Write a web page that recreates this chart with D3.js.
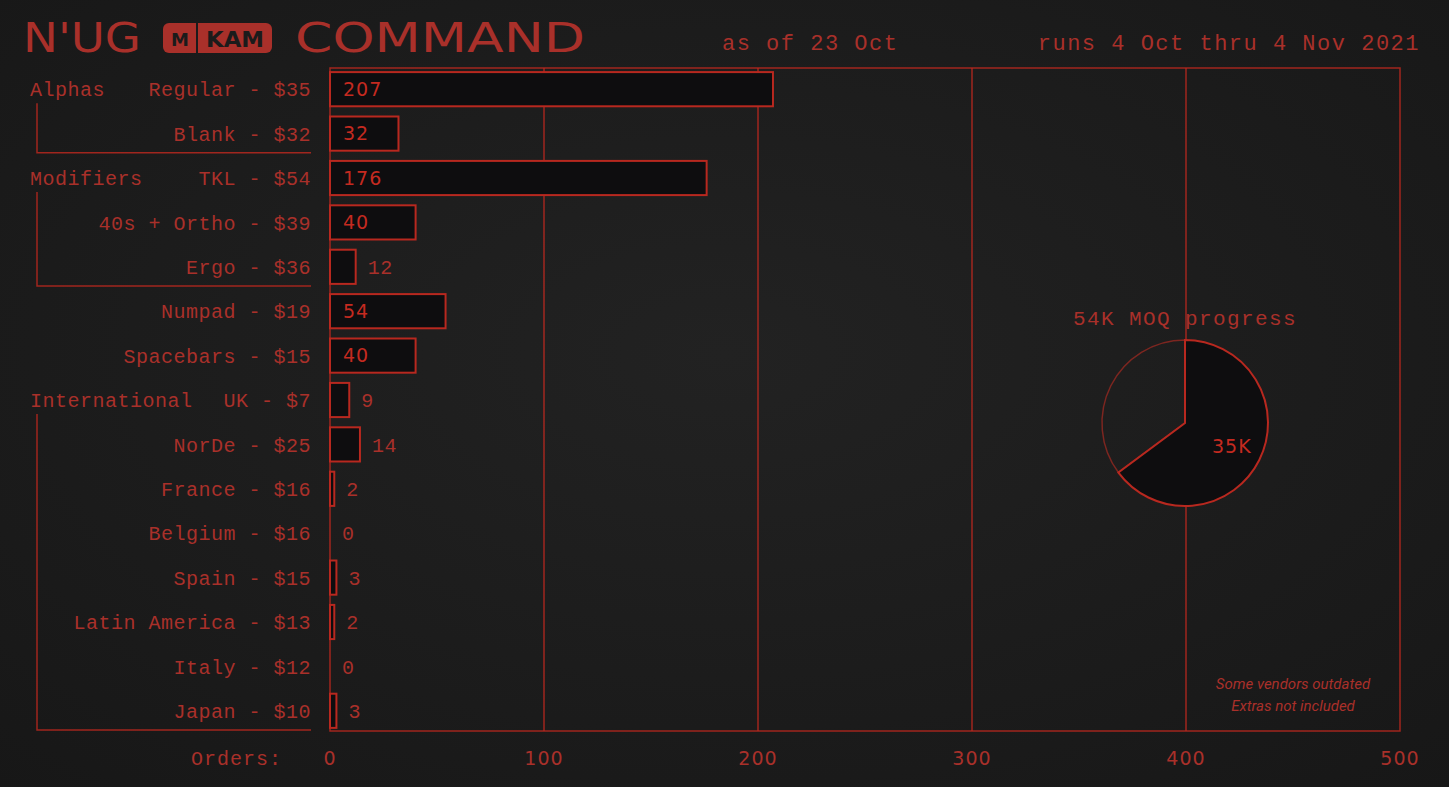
<!DOCTYPE html>
<html>
<head>
<meta charset="utf-8">
<script src="https://cdn.jsdelivr.net/npm/d3@7"></script>
<style>
  html, body { margin: 0; padding: 0; background: #1b1b1b; }
  svg { display: block; }
</style>
</head>
<body>
<script>
// ---------- data ----------
const categories = [
  "Regular - $35", "Blank - $32", "TKL - $54", "40s + Ortho - $39", "Ergo - $36",
  "Numpad - $19", "Spacebars - $15", "UK - $7", "NorDe - $25", "France - $16",
  "Belgium - $16", "Spain - $15", "Latin America - $13", "Italy - $12", "Japan - $10"
];
const orders = [207, 32, 176, 40, 12, 54, 40, 9, 14, 2, 0, 3, 2, 0, 3];
const groupNames = ["Alphas", "Modifiers", "International"];
const groupFirst = [0, 2, 7];
const groupLast = [1, 4, 14];
const tickValues = [0, 100, 200, 300, 400, 500];
const moqTotal = 54;      // thousands
const moqReached = 35;    // thousands
const pieLabels = ["35K", ""];
const headerTexts = ["as of 23 Oct", "runs 4 Oct thru 4 Nov 2021"];
const footnotes = ["Some vendors outdated", "Extras not included"];

// ---------- setup ----------
const W = 1449, H = 787;
const RED = "#b8281f";
const TXT = "#a9302a";
const DIM = "#7d2620";
const DARK = "#0e0d0f";
const TYPE = "'Liberation Mono', 'DejaVu Sans Mono', monospace";
const SQUARE = "'DejaVu Sans', sans-serif";

const svg = d3.select("body").append("svg").attr("width", W).attr("height", H);

const defs = svg.append("defs");
const rg = defs.append("radialGradient").attr("id", "bg").attr("cx", "50%").attr("cy", "45%").attr("r", "75%");
rg.append("stop").attr("offset", "0%").attr("stop-color", "#222222");
rg.append("stop").attr("offset", "100%").attr("stop-color", "#171717");
svg.append("rect").attr("width", W).attr("height", H).attr("fill", "url(#bg)");

const plot = { left: 330, right: 1400, top: 68, bottom: 731 };

const x = d3.scaleLinear().domain([0, 500]).range([plot.left, plot.right]);
const y = d3.scaleBand().domain(categories).range([67, 733]).paddingInner(0.23).paddingOuter(0.115);

// ---------- title ----------
const title = svg.append("g");
title.append("text").attr("x", 23).attr("y", 52).attr("textLength", 118).attr("lengthAdjust", "spacingAndGlyphs")
  .attr("font-family", SQUARE).attr("font-size", 40).attr("fill", TXT).text("N'UG");
title.append("rect").attr("x", 163).attr("y", 23).attr("width", 109).attr("height", 30).attr("rx", 6).attr("fill", TXT);
title.append("line").attr("x1", 197).attr("x2", 197).attr("y1", 23).attr("y2", 53).attr("stroke", "#1b1b1b").attr("stroke-width", 2);
title.append("text").attr("x", 180).attr("y", 46).attr("text-anchor", "middle").attr("font-family", SQUARE)
  .attr("font-weight", "bold").attr("font-size", 18).attr("fill", "#1b1b1b").text("M");
title.append("text").attr("x", 206).attr("y", 47).attr("textLength", 58).attr("lengthAdjust", "spacingAndGlyphs")
  .attr("font-family", SQUARE).attr("font-weight", "bold").attr("font-size", 22).attr("fill", "#1b1b1b").text("KAM");
title.append("text").attr("x", 295).attr("y", 52).attr("textLength", 290).attr("lengthAdjust", "spacingAndGlyphs")
  .attr("font-family", SQUARE).attr("font-size", 40).attr("fill", TXT).text("COMMAND");

svg.append("text").attr("x", 722).attr("y", 50).attr("font-family", TYPE).attr("font-size", 22)
  .attr("letter-spacing", 1.5).attr("fill", TXT).text(headerTexts[0]);
svg.append("text").attr("x", 1420).attr("y", 50).attr("text-anchor", "end").attr("font-family", TYPE).attr("font-size", 22)
  .attr("letter-spacing", 1.5).attr("fill", TXT).text(headerTexts[1]);

// ---------- grid & frame ----------
svg.append("g").selectAll("line").data(tickValues.slice(1, -1)).join("line")
  .attr("x1", d => x(d)).attr("x2", d => x(d)).attr("y1", plot.top).attr("y2", plot.bottom)
  .attr("stroke", RED).attr("stroke-width", 1.5).attr("opacity", 0.85);
svg.append("rect").attr("x", plot.left).attr("y", plot.top).attr("width", plot.right - plot.left)
  .attr("height", plot.bottom - plot.top).attr("fill", "none").attr("stroke", RED).attr("stroke-width", 1.5).attr("opacity", 0.85);

// ---------- bars ----------
const rows = categories.map((c, i) => ({ c, v: orders[i] }));
svg.append("g").selectAll("rect").data(rows.filter(d => d.v > 0)).join("rect")
  .attr("x", x(0)).attr("y", d => y(d.c))
  .attr("width", d => x(d.v) - x(0)).attr("height", y.bandwidth())
  .attr("fill", DARK).attr("stroke", RED).attr("stroke-width", 2);

// value labels
svg.append("g").selectAll("text").data(rows).join("text")
  .attr("x", d => d.v >= 20 ? x(0) + 13 : x(d.v) + 12)
  .attr("y", d => y(d.c) + y.bandwidth() / 2)
  .attr("dy", "0.36em")
  .attr("font-family", d => d.v >= 20 ? SQUARE : TYPE)
  .attr("font-size", d => d.v >= 20 ? 19 : 20)
  .attr("letter-spacing", d => d.v >= 20 ? 1 : 0.5)
  .attr("fill", d => d.v >= 20 ? "#c52a20" : TXT)
  .text(d => d.v);

// category labels
svg.append("g").selectAll("text").data(categories).join("text")
  .attr("x", 311).attr("y", d => y(d) + y.bandwidth() / 2).attr("dy", "0.36em")
  .attr("text-anchor", "end").attr("font-family", TYPE).attr("font-size", 20).attr("letter-spacing", 0.5)
  .attr("fill", TXT).text(d => d);

// group labels and brackets
const groups = groupNames.map((g, i) => ({ g, first: categories[groupFirst[i]], last: categories[groupLast[i]] }));
const gg = svg.append("g");
gg.selectAll("text").data(groups).join("text")
  .attr("x", 30).attr("y", d => y(d.first) + y.bandwidth() / 2).attr("dy", "0.36em")
  .attr("font-family", TYPE).attr("font-size", 20).attr("letter-spacing", 0.5).attr("fill", TXT).text(d => d.g);
gg.selectAll("path").data(groups).join("path")
  .attr("d", d => {
    const top = y(d.first) + y.bandwidth() / 2 + 14;
    const bot = y(d.last) + y.bandwidth() + (y.step() - y.bandwidth()) / 2 - 3;
    return `M37,${top} V${bot} H311`;
  })
  .attr("fill", "none").attr("stroke", RED).attr("stroke-width", 1.5).attr("opacity", 0.85);

// ---------- axis ----------
svg.append("g").selectAll("text").data(tickValues).join("text")
  .attr("x", d => x(d)).attr("y", 758).attr("dy", "0.36em").attr("text-anchor", "middle")
  .attr("font-family", SQUARE).attr("font-size", 19).attr("letter-spacing", 1).attr("fill", TXT).text(d => d);
svg.append("text").attr("x", 282).attr("y", 758).attr("dy", "0.36em").attr("text-anchor", "end")
  .attr("font-family", TYPE).attr("font-size", 20).attr("letter-spacing", 1).attr("fill", TXT).text("Orders:");

// ---------- pie ----------
const cx = 1185, cy = 423, r = 83;
const pie = d3.pie().sort(null).value(d => d);
const arcs = pie([moqReached, moqTotal - moqReached]);
const arc = d3.arc().innerRadius(0).outerRadius(r);
const pg = svg.append("g").attr("transform", `translate(${cx},${cy})`);
pg.append("path").attr("d", arc(arcs[1])).attr("fill", "none").attr("stroke", DIM).attr("stroke-width", 1.5);
pg.append("path").attr("d", arc(arcs[0])).attr("fill", DARK).attr("stroke", RED).attr("stroke-width", 2);
const lab = d3.arc().innerRadius(r * 0.55).outerRadius(r * 0.55);
pg.append("text").attr("transform", () => { const c = lab.centroid(arcs[0]); return `translate(${c[0] + 6},${c[1] + 3})`; })
  .attr("dy", "0.36em").attr("text-anchor", "middle").attr("font-family", SQUARE).attr("font-size", 19)
  .attr("letter-spacing", 1).attr("fill", "#c52a20").text(pieLabels[0]);
svg.append("text").attr("x", cx).attr("y", 317).attr("dy", "0.36em").attr("text-anchor", "middle")
  .attr("font-family", TYPE).attr("font-size", 21).attr("letter-spacing", 1.4).attr("fill", TXT)
  .text(`${moqTotal}K MOQ progress`);

// ---------- footnotes ----------
svg.append("g").selectAll("text").data(footnotes).join("text")
  .attr("x", 1293).attr("y", (d, i) => 684 + i * 22).attr("dy", "0.36em").attr("text-anchor", "middle")
  .attr("font-family", "Roboto, sans-serif").attr("font-style", "italic").attr("font-size", 15)
  .attr("fill", TXT).text(d => d);
</script>
</body>
</html>
